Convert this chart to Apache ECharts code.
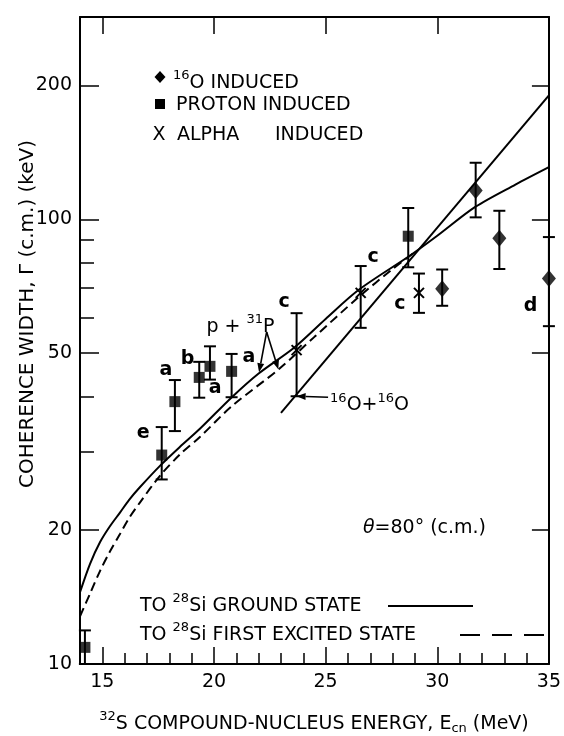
<!DOCTYPE html>
<html><head><meta charset="utf-8">
<script src="https://cdn.jsdelivr.net/npm/echarts@6/dist/echarts.min.js"></script>
<style>html,body{margin:0;padding:0;background:#fff}#c{width:564px;height:736px}</style>
</head><body><div id="c"></div>
<script>
// ---- data ----
const protonX  = [14.22, 17.66, 18.25, 19.34, 19.82, 20.79, 28.70];
const protonY  = [10.9, 29.5, 38.9, 44.1, 46.7, 45.5, 91.6];
const protonLo = [10.0, 26.0, 33.4, 39.7, 43.6, 39.8, 78.0];
const protonHi = [11.9, 34.1, 43.5, 47.8, 51.8, 49.8, 106.0];

const alphaX  = [23.70, 26.57, 29.18];
const alphaY  = [50.8, 68.3, 68.3];
const alphaLo = [40.0, 57.0, 61.6];
const alphaHi = [61.5, 78.5, 75.5];

const oxyX  = [30.22, 31.72, 32.78, 35.0];
const oxyY  = [69.8, 116.0, 90.6, 73.6];
const oxyLo = [63.9, 101.0, 77.3, 57.5];
const oxyHi = [77.1, 134.0, 104.5, 91.2];

const groundX = [14.0, 14.45, 14.9, 15.34, 15.79, 16.2, 16.69, 17.58, 18.48, 19.37, 20.8, 22.0, 23.6, 25.0, 26.5, 28.8, 30.0, 31.7, 33.5, 35.0];
const groundY = [14.5, 16.8, 18.8, 20.4, 21.9, 23.4, 25.0, 27.9, 30.8, 33.8, 39.8, 45.0, 51.5, 59.7, 69.5, 83.0, 91.8, 106.6, 119.7, 131.0];

const excitedX = [14.0, 14.45, 14.9, 15.34, 15.79, 16.2, 16.69, 17.58, 18.48, 19.37, 20.8, 22.9, 24.5, 26.5, 28.0, 29.0];
const excitedY = [12.8, 14.4, 16.2, 17.9, 19.6, 21.3, 23.1, 26.5, 29.6, 32.4, 38.0, 46.0, 54.4, 67.0, 77.3, 84.4];

const ooX = [23.0, 35.0];
const ooY = [36.7, 190.0];

const xMajor = [15, 20, 25, 30];
const xLabels = [15, 20, 25, 30, 35];
const xMinor = [16, 17, 18, 19, 21, 22, 23, 24, 26, 27, 28, 29, 31, 32, 33, 34];
const yMajor = [20, 50, 100, 200];
const yLabels = [10, 20, 50, 100, 200];
const yMinor = [30, 40, 60, 70, 80, 90];

const letters = [['e',16.83,33.0],['a',17.85,45.9],['b',18.82,48.4],['a',20.05,41.8],['a',21.57,49.0],
                 ['c',23.14,65.2],['c',27.13,82.3],['c',28.33,64.4],['d',34.18,63.9]];

// ---- chart ----
const FONT = 'DejaVu Sans';
const chart = echarts.init(document.getElementById('c'), null, {renderer:'canvas'});
const axLine = {show:true, lineStyle:{color:'#000', width:2}};
const tickStyle = {color:'#000', width:1.5};
const zip = (a,b) => a.map((v,i)=>[v,b[i]]);

function errSeries(xs, lo, hi) {
  return {
    type:'custom', xAxisIndex:0, yAxisIndex:0, z:3, clip:false,
    encode:{x:0, y:[1,2]},
    data: xs.map((x,i)=>[x, lo[i], hi[i]]),
    renderItem:(params, api)=>{
      const x = api.value(0);
      const pl = api.coord([x, api.value(1)]), ph = api.coord([x, api.value(2)]);
      const w = 6, st = {stroke:'#000', lineWidth:2};
      return {type:'group', children:[
        {type:'line', shape:{x1:pl[0],y1:pl[1],x2:ph[0],y2:ph[1]}, style:st},
        {type:'line', shape:{x1:pl[0]-w,y1:pl[1],x2:pl[0]+w,y2:pl[1]}, style:st},
        {type:'line', shape:{x1:ph[0]-w,y1:ph[1],x2:ph[0]+w,y2:ph[1]}, style:st}
      ]};
    }
  };
}

const option = {
  animation:false,
  backgroundColor:'#fff',
  grid:{left:80, right:15, top:17, bottom:72, containLabel:false},
  xAxis:[
    {type:'value', min:14, max:35, position:'bottom', axisLine:axLine, splitLine:{show:false},
     axisTick:{show:true, inside:true, length:17, customValues:xMajor, lineStyle:tickStyle},
     axisLabel:{show:true, customValues:xLabels, margin:9, fontSize:19, color:'#000', fontFamily:FONT}},
    {type:'value', min:14, max:35, position:'bottom', axisLine:{show:false}, splitLine:{show:false},
     axisTick:{show:true, inside:true, length:11, customValues:xMinor, lineStyle:tickStyle},
     axisLabel:{show:false}},
    {type:'value', min:14, max:35, position:'top', axisLine:axLine, splitLine:{show:false},
     axisTick:{show:true, inside:true, length:17, customValues:xMajor, lineStyle:tickStyle},
     axisLabel:{show:false}}
  ],
  yAxis:[
    {type:'log', logBase:10, min:10, max:285, position:'left', axisLine:axLine, splitLine:{show:false}, minorTick:{show:false},
     axisTick:{show:true, inside:true, length:19, customValues:yMajor, lineStyle:tickStyle},
     axisLabel:{show:true, customValues:yLabels, margin:8, fontSize:19, color:'#000', fontFamily:FONT}},
    {type:'log', logBase:10, min:10, max:285, position:'left', axisLine:{show:false}, splitLine:{show:false},
     axisTick:{show:true, inside:true, length:14, customValues:yMinor, lineStyle:tickStyle},
     axisLabel:{show:false}},
    {type:'log', logBase:10, min:10, max:285, position:'right', axisLine:axLine, splitLine:{show:false},
     axisTick:{show:true, inside:true, length:17, customValues:yMajor, lineStyle:tickStyle},
     axisLabel:{show:false}}
  ],
  series:[
    {type:'line', data:zip(groundX, groundY), showSymbol:false, symbol:'none', smooth:0.3,
     lineStyle:{color:'#000', width:2}, z:2},
    {type:'line', data:zip(excitedX, excitedY), showSymbol:false, symbol:'none', smooth:0.3,
     lineStyle:{color:'#000', width:2, type:[9,5]}, z:2},
    {type:'line', data:zip(ooX, ooY), showSymbol:false, symbol:'none',
     lineStyle:{color:'#000', width:2}, z:2},
    errSeries(protonX, protonLo, protonHi),
    errSeries(alphaX, alphaLo, alphaHi),
    errSeries(oxyX, oxyLo, oxyHi),
    {type:'scatter', data:zip(protonX, protonY), symbol:'rect', symbolSize:11, itemStyle:{color:'#000'}, z:4, clip:false},
    {type:'scatter', data:zip(oxyX, oxyY), symbol:'diamond', symbolSize:[14,17], itemStyle:{color:'#000'}, z:4, clip:false},
    {type:'custom', z:4, clip:false, encode:{x:0,y:1}, data:zip(alphaX, alphaY),
     renderItem:(params, api)=>{
       const p = api.coord([api.value(0), api.value(1)]), r = 5, st = {stroke:'#000', lineWidth:2};
       return {type:'group', children:[
         {type:'line', shape:{x1:p[0]-r,y1:p[1]-r,x2:p[0]+r,y2:p[1]+r}, style:st},
         {type:'line', shape:{x1:p[0]-r,y1:p[1]+r,x2:p[0]+r,y2:p[1]-r}, style:st}
       ]};
     }}
  ]
};
chart.setOption(option);

// ---- annotations ----
const P = (x,y) => chart.convertToPixel({xAxisIndex:0, yAxisIndex:0}, [x,y]);
const rich = {
  s:{fontSize:13, fontFamily:FONT, fill:'#000', padding:[0,0,14,0]},
  b:{fontSize:13, fontFamily:FONT, fill:'#000', padding:[10,0,0,0]},
  i:{fontSize:19, fontFamily:FONT, fill:'#000', fontStyle:'italic'}
};
function txt(x, y, text, opt={}) {
  return {type:'text', x:x, y:y, rotation:opt.rotation||0, z:10,
    style:{text:text, fontSize:opt.size||19, fontFamily:FONT, fontWeight:opt.weight||'normal', fill:'#000',
           textAlign:opt.align||'left', textVerticalAlign:'middle', rich:rich}};
}
function arrow(p0, p1, head=9, w=3.5) {
  const dx=p1[0]-p0[0], dy=p1[1]-p0[1], L=Math.hypot(dx,dy), ux=dx/L, uy=dy/L;
  const bx=p1[0]-ux*head, by=p1[1]-uy*head;
  return [
    {type:'line', z:10, shape:{x1:p0[0],y1:p0[1],x2:bx,y2:by}, style:{stroke:'#000', lineWidth:1.6}},
    {type:'polygon', z:10, shape:{points:[[p1[0],p1[1]],[bx-uy*w,by+ux*w],[bx+uy*w,by-ux*w]]}, style:{fill:'#000'}}
  ];
}
const g = [];
letters.forEach(([t,x,y])=>{ const p=P(x,y); g.push(txt(p[0],p[1],t,{align:'center', weight:'bold'})); });
// p + 31P
const pp = P(19.66, 57.3);
g.push(txt(pp[0], pp[1], 'p + {s|31}P'));
const pStart = P(22.36, 55.8);
g.push(...arrow(pStart, P(22.02, 45.3)));
g.push(...arrow(pStart, P(22.88, 46.0)));
// 16O + 16O
g.push(...arrow(P(25.11, 39.8), P(23.70, 40.0)));
const oo = P(25.2, 38.2);
g.push(txt(oo[0], oo[1], '{s|16}O+{s|16}O'));
// theta
const th = P(26.67, 20.2);
g.push(txt(th[0], th[1], '{i|θ}=80° (c.m.)'));
// top legend
g.push({type:'polygon', z:10, shape:{points:[[160,71],[165.5,77],[160,83],[154.5,77]]}, style:{fill:'#000'}});
g.push(txt(173, 83, '{s|16}O INDUCED'));
g.push({type:'rect', z:10, shape:{x:155, y:99, width:10, height:10}, style:{fill:'#000'}});
g.push(txt(176, 105, 'PROTON INDUCED'));
g.push(txt(159, 135, 'X', {align:'center'}));
g.push(txt(177, 135, 'ALPHA'));
g.push(txt(275, 135, 'INDUCED'));
// bottom legend
g.push(txt(140, 606, 'TO {s|28}Si GROUND STATE'));
g.push({type:'line', z:10, shape:{x1:388,y1:606,x2:473,y2:606}, style:{stroke:'#000', lineWidth:2}});
g.push(txt(140, 635, 'TO {s|28}Si FIRST EXCITED STATE'));
g.push({type:'line', z:10, shape:{x1:460,y1:635,x2:545,y2:635}, style:{stroke:'#000', lineWidth:2, lineDash:[20,12]}});
// axis titles
g.push(txt(314, 724, '{s|32}S COMPOUND-NUCLEUS ENERGY, E{b|cn} (MeV)', {align:'center'}));
g.push(txt(28, 314, 'COHERENCE WIDTH, Γ (c.m.) (keV)', {align:'center', rotation:Math.PI/2, size:20}));
chart.setOption({graphic:{elements:g}});
</script></body></html>
